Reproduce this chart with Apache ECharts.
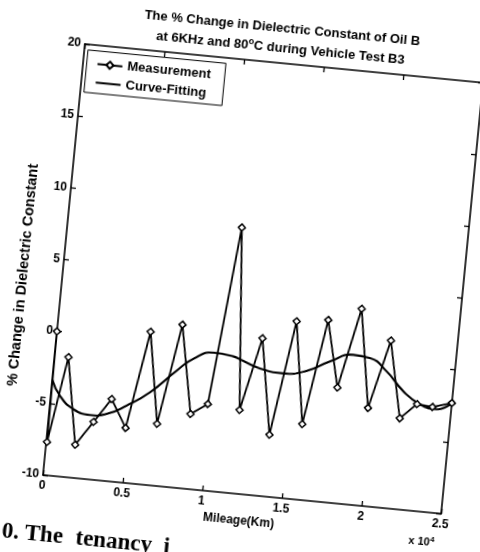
<!DOCTYPE html>
<html>
<head>
<meta charset="utf-8">
<script src="https://cdn.jsdelivr.net/npm/echarts@6/dist/echarts.min.js"></script>
<style>
html,body{margin:0;padding:0;width:480px;height:552px;overflow:hidden;background:#fff;}
#wrap{position:absolute;left:-36.7px;top:-38px;width:600px;height:640px;transform-origin:80px 513px;transform:rotate(5.55deg);}
</style>
</head>
<body>
<div id="wrap"></div>
<script>
// ---- data ----
const seriesNames = ['Measurement', 'Curve-Fitting'];
const measMileage = [0, 50, 872, 1820, 2824, 3813, 4853, 5830, 6785, 7770, 8805, 9825, 10875, 11835, 12830, 13842, 14850, 15820, 16810, 17785, 18820, 19812, 20833, 21850, 22840, 23815, 25000];
const measChange  = [0.0, -7.7, -1.7, -7.7, -6.0, -4.3, -6.2, 0.6, -5.7, 1.3, -4.8, -4.0, 8.4, -4.2, 0.9, -5.7, 2.3, -4.75, 2.6, -2.0, 3.6, -3.2, 1.6, -3.7, -2.6, -2.7, -2.3];
const fitMileage  = [0, 580, 1488, 2560, 3590, 4785, 6165, 7700, 8670, 9880, 11145, 11545, 12840, 14315, 15760, 17160, 18570, 19630, 20745, 21895, 23015, 24080, 25000];
const fitChange   = [-3.35, -4.43, -5.25, -5.55, -5.36, -4.65, -3.57, -1.89, -0.97, -0.42, -0.55, -0.7, -1.2, -1.38, -1.06, -0.25, 0.37, 0.26, -0.54, -1.8, -2.6, -2.83, -2.3];
const xTickLabels = ['0', '0.5', '1', '1.5', '2', '2.5'];
const yTickValues = [-10, -5, 0, 5, 10, 15, 20];
const titleLine1 = 'The % Change in Dielectric Constant of Oil B';
const titleLine2 = 'at 6KHz and 80{sup|o}C during Vehicle Test B3';
const xName = 'Mileage(Km)';
const yName = '% Change in Dielectric Constant';
const xScaleText = 'x 10{sup|4}';
const pageText1 = '0. The';
const pageText2 = 'tenancy  i';

// ---- layout ----
const FONT = 'Liberation Sans, Arial, sans-serif';
const GL = 80, GT = 80, GW = 400, GH = 433;
const OX = GL, OY = GT + GH; // bottom-left of plot in div coords

const chart = echarts.init(document.getElementById('wrap'), null, {renderer: 'canvas'});

const axisLineStyle = {show: true, onZero: false, lineStyle: {color: '#000', width: 1.6}};
const axisTickStyle = {show: true, inside: true, length: 5, lineStyle: {color: '#000', width: 1.3}};
const labelStyle = {color: '#000', fontFamily: FONT, fontWeight: 'bold', fontSize: 12};

const measData = measMileage.map((m, i) => [m, measChange[i]]);
const fitData = fitMileage.map((m, i) => [m, fitChange[i]]);

const option = {
  animation: false,
  backgroundColor: '#fff',
  grid: {left: GL, top: GT, width: GW, height: GH, containLabel: false, outerBoundsMode: 'none'},
  legend: {
    orient: 'vertical',
    left: GL + 3.7, top: GT + 5.6,
    padding: [6.6, 14, 4.2, 9.8],
    itemWidth: 25, itemHeight: 9, itemGap: 5.6,
    borderColor: '#000', borderWidth: 1,
    textStyle: {color: '#000', fontFamily: FONT, fontWeight: 'bold', fontSize: 13, lineHeight: 9},
    data: [
      {name: seriesNames[0]},
      {name: seriesNames[1], itemStyle: {opacity: 0, color: 'transparent', borderWidth: 0}}
    ]
  },
  xAxis: [
    {type: 'value', position: 'bottom', min: 0, max: 25000, interval: 5000,
     axisLine: axisLineStyle, axisTick: axisTickStyle, splitLine: {show: false},
     axisLabel: Object.assign({show: true, margin: 5, showMinLabel: true, showMaxLabel: true,
       formatter: (v, i) => xTickLabels[i]}, labelStyle)},
    {type: 'value', position: 'top', min: 0, max: 25000, interval: 5000,
     axisLine: axisLineStyle, axisTick: axisTickStyle, splitLine: {show: false}, axisLabel: {show: false}}
  ],
  yAxis: [
    {type: 'value', position: 'left', min: yTickValues[0], max: yTickValues[yTickValues.length - 1], interval: 5,
     axisLine: axisLineStyle, axisTick: axisTickStyle, splitLine: {show: false},
     axisLabel: Object.assign({show: true, margin: 4, showMinLabel: true, showMaxLabel: true}, labelStyle)},
    {type: 'value', position: 'right', min: yTickValues[0], max: yTickValues[yTickValues.length - 1], interval: 5,
     axisLine: axisLineStyle, axisTick: axisTickStyle, splitLine: {show: false}, axisLabel: {show: false}}
  ],
  series: [
    {name: seriesNames[0], type: 'line', xAxisIndex: 0, yAxisIndex: 0, data: measData,
     symbol: 'diamond', symbolSize: 7, showAllSymbol: true,
     itemStyle: {color: '#fff', borderColor: '#000', borderWidth: 1.5},
     lineStyle: {color: '#000', width: 1.8}, z: 3},
    {name: seriesNames[1], type: 'line', xAxisIndex: 0, yAxisIndex: 0, data: fitData,
     symbol: 'none', smooth: 0.5,
     itemStyle: {color: '#000'},
     lineStyle: {color: '#000', width: 2.1}, z: 2}
  ],
  graphic: [
    {type: 'text', x: OX + 195, y: OY - 467.3,
     style: {text: titleLine1, fill: '#000', font: 'bold 13px ' + FONT, align: 'center', verticalAlign: 'middle'}},
    {type: 'text', x: OX + 195, y: OY - 447.3,
     style: {text: titleLine2, fill: '#000', font: 'bold 13px ' + FONT, align: 'center', verticalAlign: 'middle',
       rich: {sup: {fontSize: 9, fontWeight: 'bold', fontFamily: FONT, fill: '#000', padding: [0, 0, 8, 0]}}}},
    {type: 'text', x: OX - 39.2, y: OY - 197.2, rotation: Math.PI / 2,
     style: {text: yName, fill: '#000', font: 'bold 14.5px ' + FONT, align: 'center', verticalAlign: 'middle'}},
    {type: 'text', x: OX + 199, y: OY + 27,
     style: {text: xName, fill: '#000', font: 'bold 12px ' + FONT, align: 'center', verticalAlign: 'middle'}},
    {type: 'text', x: OX + 383, y: OY + 30,
     style: {text: xScaleText, fill: '#000', font: 'bold 11px ' + FONT, align: 'center', verticalAlign: 'middle',
       rich: {sup: {fontSize: 8, fontWeight: 'bold', fontFamily: FONT, fill: '#000', padding: [0, 0, 7, 0]}}}},
    {type: 'text', x: OX - 35.5, y: OY + 71.8,
     style: {text: pageText1, fill: '#000', font: 'bold 23px Liberation Serif, serif', align: 'left', verticalAlign: 'bottom'}},
    {type: 'text', x: OX + 38.5, y: OY + 71.8,
     style: {text: pageText2, fill: '#000', font: 'bold 23px Liberation Serif, serif', align: 'left', verticalAlign: 'bottom'}}
  ]
};
chart.setOption(option);
</script>
</body>
</html>
